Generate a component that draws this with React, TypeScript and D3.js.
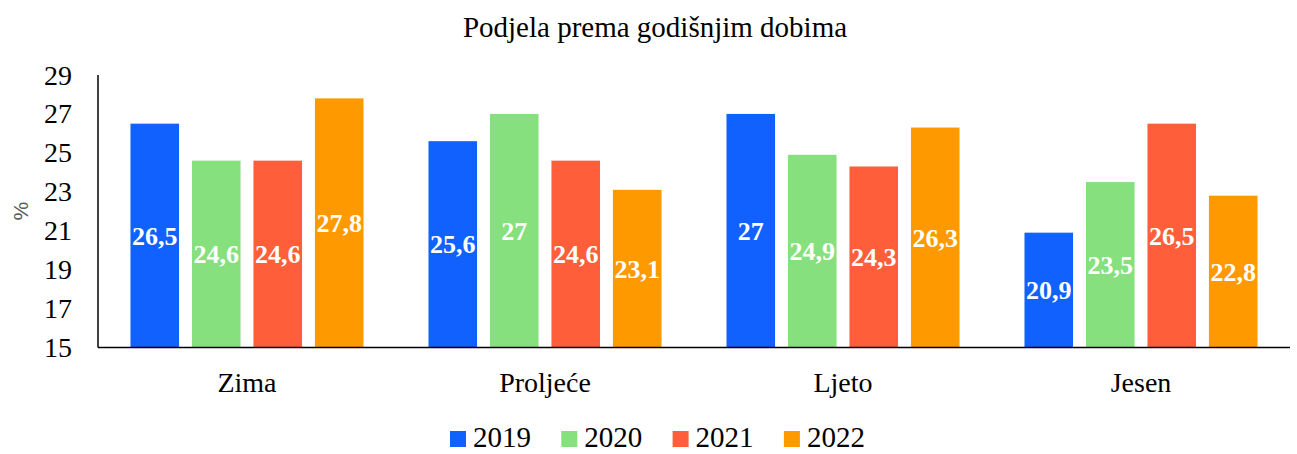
import React, { useEffect, useRef } from "react";
import * as d3 from "d3";

const categories = ["Zima", "Proljeće", "Ljeto", "Jesen"];
const years = ["2019", "2020", "2021", "2022"];
const values2019 = [26.5, 25.6, 27, 20.9];
const values2020 = [24.6, 27, 24.9, 23.5];
const values2021 = [24.6, 24.6, 24.3, 26.5];
const values2022 = [27.8, 23.1, 26.3, 22.8];
const yTicks = [15, 17, 19, 21, 23, 25, 27, 29];
const colors = ["#1061FE", "#86E07E", "#FF5E3A", "#FF9900"];

const App = () => {
	const ref = useRef<SVGSVGElement>(null);

	useEffect(() => {
		const width = 1297;
		const height = 454;
		const margin = { top: 75, right: 7, bottom: 107, left: 98 };
		const font = "Liberation Serif, DejaVu Serif, Times New Roman, serif";
		const series = [values2019, values2020, values2021, values2022];

		const svg = d3.select(ref.current);
		svg.selectAll("*").remove();

		const x0 = d3
			.scaleBand()
			.domain(categories)
			.range([margin.left, width - margin.right])
			.paddingInner(0.218)
			.paddingOuter(0.109);

		const x1 = d3.scaleBand().domain(years).range([0, x0.bandwidth()]).paddingInner(0.21);

		const y = d3
			.scaleLinear()
			.domain([15, 29])
			.range([height - margin.bottom + 0.5, margin.top]);

		svg
			.append("text")
			.attr("x", 655)
			.attr("y", 37)
			.attr("text-anchor", "middle")
			.style("font-family", font)
			.attr("font-size", 29)
			.text("Podjela prema godišnjim dobima");

		// y tick labels
		svg
			.append("g")
			.selectAll("text")
			.data(yTicks)
			.join("text")
			.attr("x", 72)
			.attr("y", (d) => y(d))
			.attr("dy", "0.34em")
			.attr("text-anchor", "end")
			.style("font-family", font)
			.attr("font-size", 28)
			.text((d) => d);

		svg
			.append("text")
			.attr("transform", `translate(28,${(y(15) + y(29)) / 2}) rotate(-90)`)
			.attr("text-anchor", "middle")
			.style("font-family", "Liberation Sans, Arial, sans-serif")
			.attr("font-size", 21)
			.attr("fill", "#595959")
			.text("%");

		const groups = svg
			.append("g")
			.selectAll("g")
			.data(categories)
			.join("g")
			.attr("transform", (d) => `translate(${x0(d)},0)`);

		groups
			.selectAll("rect")
			.data((_, i) => series.map((s, j) => ({ year: years[j], value: s[i], k: j })))
			.join("rect")
			.attr("x", (d) => x1(d.year)!)
			.attr("y", (d) => y(d.value))
			.attr("width", x1.bandwidth())
			.attr("height", (d) => y(15) - y(d.value))
			.attr("fill", (d) => colors[d.k]);

		groups
			.selectAll("text")
			.data((_, i) => series.map((s, j) => ({ year: years[j], value: s[i] })))
			.join("text")
			.attr("x", (d) => x1(d.year)! + x1.bandwidth() / 2)
			.attr("y", (d) => (y(d.value) + y(15)) / 2)
			.attr("dy", "0.35em")
			.attr("text-anchor", "middle")
			.style("font-family", font)
			.attr("font-weight", "bold")
			.attr("font-size", 26)
			.attr("fill", "#fff")
			.text((d) => String(d.value).replace(".", ","));

		// axes lines
		svg
			.append("line")
			.attr("x1", margin.left)
			.attr("x2", margin.left)
			.attr("y1", y(29))
			.attr("y2", y(15))
			.attr("stroke", "#000")
			.attr("stroke-width", 1.5);
		svg
			.append("line")
			.attr("x1", margin.left)
			.attr("x2", width - margin.right)
			.attr("y1", y(15))
			.attr("y2", y(15))
			.attr("stroke", "#000")
			.attr("stroke-width", 1.5);

		svg
			.append("g")
			.selectAll("text")
			.data(categories)
			.join("text")
			.attr("x", (d) => x0(d)! + x0.bandwidth() / 2)
			.attr("y", 392)
			.attr("text-anchor", "middle")
			.style("font-family", font)
			.attr("font-size", 28)
			.text((d) => d);

		// legend
		const legend = svg
			.append("g")
			.selectAll("g")
			.data(years)
			.join("g")
			.attr("transform", (_, i) => `translate(${450 + i * 111.3},431)`);
		legend
			.append("rect")
			.attr("width", 16)
			.attr("height", 16)
			.attr("fill", (_, i) => colors[i]);
		legend
			.append("text")
			.attr("x", 23)
			.attr("y", 16)
			.style("font-family", font)
			.attr("font-size", 29)
			.text((d) => d);
	}, []);

	return (
		<svg
			ref={ref}
			width={1297}
			height={454}
			style={{ position: "absolute", left: 0, top: 0, background: "#fff" }}
		/>
	);
};

export default App;
